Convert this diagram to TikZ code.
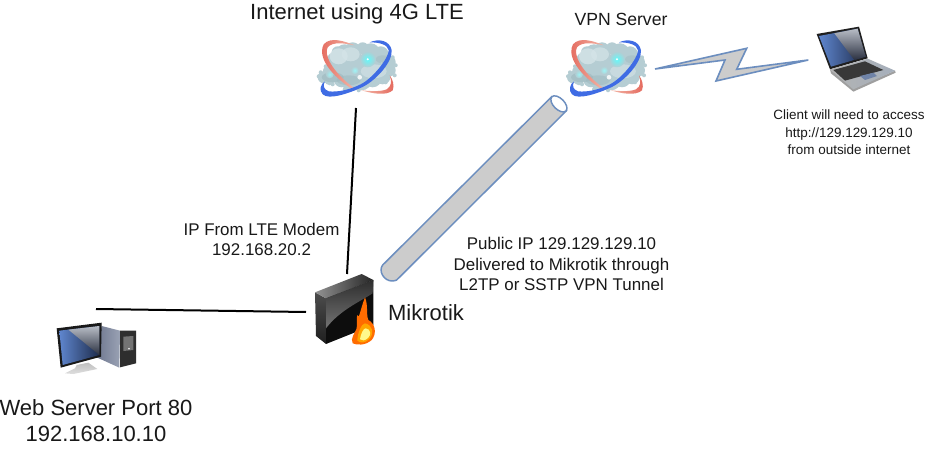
\documentclass[tikz,border=0pt]{standalone}
\usepackage{fontspec}
\setmainfont{Liberation Sans}
\usetikzlibrary{shadings}
\definecolor{pipeblue}{HTML}{6C8EBF}
\definecolor{pipegray}{HTML}{CCCCCC}
\definecolor{ringred}{HTML}{E4685C}
\definecolor{ringpale}{HTML}{F3B7A8}
\definecolor{ringblue}{HTML}{3F6CE4}
\definecolor{ringsky}{HTML}{7DBCF2}
\definecolor{cloudc}{HTML}{B5CDD3}
\definecolor{cloudl}{HTML}{D5E4E8}
\definecolor{cloudd}{HTML}{9DB8BE}
\definecolor{scrblue}{HTML}{5F86CE}
\definecolor{scrnavy}{HTML}{1E2C4C}
\definecolor{scrlight}{HTML}{B8BDC6}
\definecolor{scrdark}{HTML}{2A3040}
\definecolor{bodygray}{HTML}{A6B0BC}
\definecolor{towerl}{HTML}{9AA2B4}
\definecolor{towerd}{HTML}{6F7890}
\tikzset{
  x=0.75pt,y=-0.75pt,
  link/.style={draw=black,line width=1.5pt},
  tube/.style={draw=pipeblue,line width=1.1pt,fill=pipegray},
  holder/.style={inner sep=0pt,outer sep=0pt,minimum width=#1},
  lab/.style={align=center,inner sep=0pt,text=black!90},
  big/.style={lab,font=\fontsize{16.5pt}{19.5pt}\selectfont},
  mid/.style={lab,font=\fontsize{12.7pt}{15.3pt}\selectfont},
  small/.style={lab,font=\fontsize{10.1pt}{13pt}\selectfont},
  cloudicon/.pic={
    \foreach \a/\b/\r in {-33/9/6,-26/4/8,-27/12/5,-22/-8/8,-19/-16/6,-12/-15/9,-4/-18/8,6/-20/6,14/-16/9,24/-14/8,32/-6/7,33/2/6,26/8/8,16/10/9,5/12/10,-6/14/9,-15/11/8,-6/-2/16,12/0/14,-18/2/10}
      \fill[cloudc] (\a,\b) circle (\r);
    \foreach \a/\b/\r in {-38/8/2,-36/4/2,-31/-2/2,36/-11/2,39/-3/2,38/7/2,29/14/2,-24/16/2,-12/21/2,2/22/2}
      \fill[cloudc] (\a,\b) circle (\r);
    \fill[cloudl,opacity=.8] (-18,-12) ellipse (9 and 8);
    \fill[cloudl,opacity=.7] (-6,-14) ellipse (9 and 7);
    \fill[cloudl,opacity=.6] (17,3) ellipse (13 and 7);
    \fill[cloudd,opacity=.6] (-24,9) ellipse (11 and 5);
    \fill[cloudd,opacity=.5] (-8,12) ellipse (12 and 5);
    \fill[cloudd,opacity=.4] (26,-9) ellipse (7 and 4);
    \shade[inner color=cyan!65!white,outer color=cloudc,opacity=.9] (11,-9) circle (8);
    \fill[white] (11,-9) circle (1.1);
    \shade[inner color=cyan!40!white,outer color=cloudc,opacity=.8] (-2,2) circle (4);
    \shade[inner color=cyan!40!white,outer color=cloudc,opacity=.8] (-27,6) circle (4);
    \fill[white,opacity=.85] (3,9) circle (2.3);
    % red ring, front left
    \shade[left color=ringred,right color=ringpale] (-2,-23) .. controls (-12,-27) and (-26,-32) .. (-33,-24) .. controls (-38,-15) and (-33,2) .. (-3,22) .. controls (-3,21) and (-3,20) .. (-3,19.5) .. controls (-25,3) and (-33,-14) .. (-29,-21) .. controls (-24,-27) and (-12,-25) .. cycle;
    % red ring, lower right
    \shade[left color=ringpale,right color=ringred] (5,22) .. controls (14,25) and (30,28) .. (36,22) .. controls (38,17) and (36,11) .. (33,7) .. controls (35,13) and (35,18) .. (30,21) .. controls (24,23.5) and (14,23) .. cycle;
    % blue ring
    \shade[left color=ringblue,middle color=ringsky,right color=ringblue] (13,-26) .. controls (22,-30) and (33,-28) .. (35,-18) .. controls (36,-6) and (18,14) .. (3,20) .. controls (-8,25) and (-28,32) .. (-34,26) .. controls (-38,22) and (-36,16) .. (-32,13) .. controls (-34,18) and (-33,21) .. (-28,23) .. controls (-20,24) and (-8,22) .. (4,16) .. controls (16,10) and (32,-10) .. (32,-18) .. controls (31,-24) and (22,-26) .. cycle;
  },
}
\begin{document}
\begin{tikzpicture}
\useasboundingbox (0,0) rectangle (942,449);
\fill[white] (0,0) rectangle (942,449);

% invisible holders that the connectors attach to
\node[holder=80pt,minimum height=60pt] (cloudA) at (356,68) {};
\node[holder=61.5pt,minimum height=57pt] (fw) at (347,312) {};
\node[holder=60pt,minimum height=58.5pt] (pc) at (96,348) {};

\draw[link] (cloudA.south) -- (fw.north);
\draw[link] (pc.north) -- (fw.west);

% clouds
\pic at (356.7,68.3) {cloudicon};
\pic at (606,68.3) {cloudicon};

% tunnel
\draw[tube] (551.7,96.7) -- (382.7,265) .. controls (378,271) and (384,281) .. (392,281) .. controls (394,281) and (395.5,280.5) .. (396.7,280) -- (566.5,110.7) -- cycle;
\draw[draw=pipeblue,line width=1.1pt,fill=white,rotate around={-45:(558.9,103.9)}] (558.9,103.9) ellipse (10 and 5.5);

% lightning
\draw[tube,line width=1.2pt,line join=miter] (655,69) -- (746.7,48.3) -- (736.7,69.3) -- (808.3,60) -- (716,81) -- (725,60) -- cycle;

% laptop
\begin{scope}[shift={(805,20)},scale=1/3]
  \fill[black!88] (35,42) -- (162,20) -- (188,115) -- (75,148) -- cycle;
  \shade[left color=scrblue,right color=scrnavy] (42,48) -- (158,26) -- (182,110) -- (78,140) -- cycle;
  \shade[top color=scrlight,bottom color=scrdark] (88,40) -- (158,26) -- (182,110) -- (148,120) -- cycle;
  \fill[gray!75] (75,148) -- (145,205) -- (270,152) -- (272,158) -- (145,215) -- (78,160) -- cycle;
  \shade[left color=gray!60,right color=bodygray] (75,148) -- (188,116) -- (270,152) -- (145,208) -- cycle;
  \fill[black!78] (85,150) -- (180,124) -- (235,150) -- (120,182) -- cycle;
  \fill[scrblue!50!gray] (165,168) -- (205,158) -- (216,168) -- (180,180) -- cycle;
\end{scope}

% firewall
\begin{scope}[shift={(300,260)},scale=1/3]
  \shade[top color=black!70,bottom color=black!88] (45,97) -- (78,115) -- (78,252) -- (48,228) -- cycle;
  \shade[left color=gray!85,right color=black!85] (45,97) -- (185,42) -- (220,60) -- (78,115) -- cycle;
  \fill[black!95] (78,115) -- (220,60) -- (220,195) -- (78,252) -- cycle;
  \shade[top color=black!82,bottom color=gray!90!black] (78,115) -- (220,60) -- (218,100) .. controls (180,125) and (120,150) .. (78,205) -- cycle;
  \fill[orange!85!red] (158,250) .. controls (150,235) and (165,220) .. (170,205) .. controls (172,190) and (168,175) .. (172,165) .. controls (178,180) and (180,150) .. (195,112) .. controls (205,135) and (198,165) .. (205,180) .. controls (225,190) and (232,220) .. (215,240) .. controls (195,258) and (170,255) .. cycle;
  \fill[orange!70!yellow] (172,242) .. controls (172,220) and (185,190) .. (195,190) .. controls (218,195) and (224,220) .. (208,237) .. controls (195,250) and (180,250) .. cycle;
  \fill[yellow!45] (180,238) .. controls (182,222) and (190,205) .. (197,205) .. controls (213,207) and (214,225) .. (205,233) .. controls (195,243) and (185,243) .. cycle;
\end{scope}

% workstation
\begin{scope}[shift={(40,300)},scale=1/3]
  \shade[left color=towerd,right color=towerl] (170,172) -- (185,78) -- (240,92) -- (238,203) -- cycle;
  \fill[black!82] (240,92) -- (288,92) -- (288,190) -- (240,202) -- cycle;
  \fill[black!55] (250,110) -- (280,108) -- (280,150) -- (250,153) -- cycle;
  \fill[white] (267,146) circle (2.5);
  \shade[top color=gray!50,bottom color=gray!25] (75,220) -- (100,222) -- (172,207) -- (145,188) -- (110,195) -- (105,205) -- cycle;
  \fill[black!90] (50,85) -- (185,68) -- (183,170) -- (62,203) -- cycle;
  \shade[left color=scrblue,right color=scrnavy] (58,92) -- (178,78) -- (178,165) -- (68,195) -- cycle;
  \shade[top color=scrlight,bottom color=scrdark] (85,89) -- (178,78) -- (178,165) -- cycle;
\end{scope}

% labels
\node[big] (t1) at (357,14) {Internet using 4G LTE};
\node[mid,font=\fontsize{13.2pt}{15.3pt}\selectfont] (t2) at (621,19) {VPN Server};
\node[small] (t3) at (849,132.5) {Client will need to access\\http://129.129.129.10\\from outside internet};
\node[mid] (t4) at (261.5,239.5) {IP From LTE Modem\\192.168.20.2};
\node[mid] (t5) at (561.5,264) {Public IP 129.129.129.10\\Delivered to Mikrotik through\\L2TP or SSTP VPN Tunnel};
\node[big] (t6) at (426,313) {Mikrotik};
\node[big] (t7) at (96,421) {Web Server Port 80\\192.168.10.10};
\end{tikzpicture}
\end{document}
